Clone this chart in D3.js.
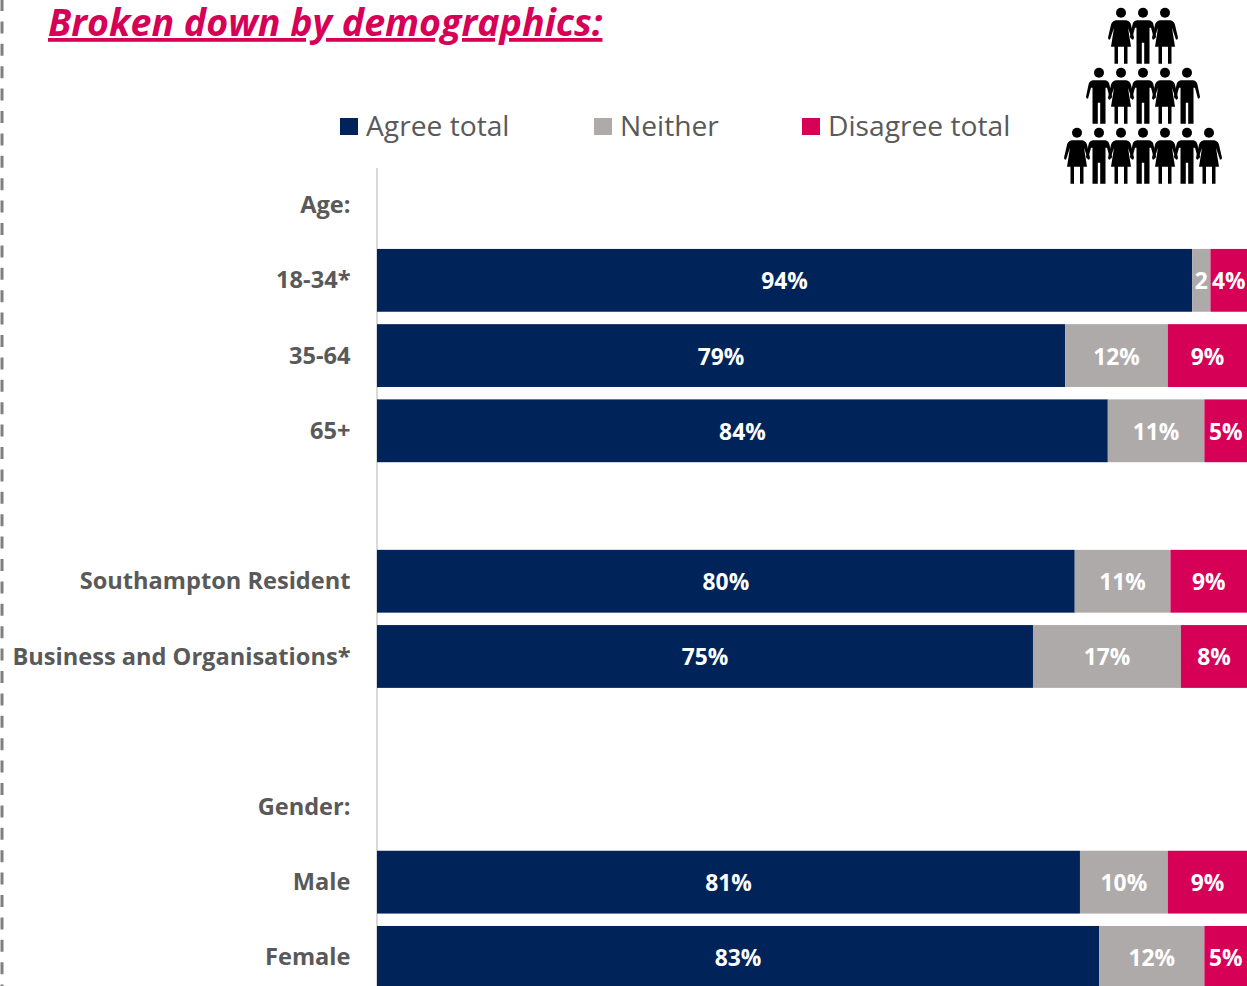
<!DOCTYPE html>
<html><head><meta charset="utf-8">
<script src="https://cdn.jsdelivr.net/npm/d3@7/dist/d3.min.js"></script>
<style>html,body{margin:0;padding:0;background:#fff;overflow:hidden}svg{display:block}text{font-family:"Open Sans",sans-serif}</style>
</head><body><svg id="c" width="1247" height="986"></svg>
<script>
const categories=["Age:","18-34*","35-64","65+"," ","Southampton Resident","Business and Organisations*","  ","Gender:","Male","Female"];
const seriesNames=["Agree total","Neither","Disagree total"];
const colors=["#00235a","#aeaaaa","#d60057"];
const agree=[null,93.7,79.1,84,null,80.2,75.4,null,null,80.8,83];
const neither=[null,2.1,11.8,11.1,null,11,17,null,null,10.1,12.1];
const disagree=[null,4.2,9.1,4.9,null,8.8,7.6,null,null,9.1,4.9];
const agreeLabels=[null,"94%","79%","84%",null,"80%","75%",null,null,"81%","83%"];
const neitherLabels=[null,"2","12%","11%",null,"11%","17%",null,null,"10%","12%"];
const disagreeLabels=[null,"4%","9%","5%",null,"9%","8%",null,null,"9%","5%"];
const crowdRows=[["f","m","f"],["m","f","m","f","m"],["f","m","f","m","f","m","f"]];

const svg=d3.select("#c");
const x=d3.scaleLinear().domain([0,100]).range([377,1247]);
const y=d3.scaleBand().domain(categories).range([167.5,995]).paddingInner(0.165).paddingOuter(0.0825);

svg.append("line").attr("x1",2).attr("x2",2).attr("y1",-1).attr("y2",986)
  .attr("stroke","#7f7f7f").attr("stroke-width",3).attr("stroke-dasharray","12 10.4");

svg.append("text").attr("x",48).attr("y",36).text("Broken down by demographics:")
  .attr("fill","#d60057").attr("font-size",37.6).attr("font-weight",700).attr("font-style","italic")
  .attr("text-decoration","underline");

const legendX=[340,594,802];
const lg=svg.selectAll(".lg").data(seriesNames).join("g").attr("class","lg")
  .attr("transform",(d,i)=>`translate(${legendX[i]},118)`);
lg.append("rect").attr("width",18).attr("height",17).attr("fill",(d,i)=>colors[i]);
lg.append("text").attr("x",26).attr("y",17.5).text(d=>d).attr("fill","#595959").attr("font-size",28.2);

const ax=svg.append("g").attr("transform","translate(376.5,0)").call(d3.axisLeft(y).tickSize(0).tickPadding(26));
ax.select(".domain").attr("stroke","#d9d9d9").attr("stroke-width",2);
ax.selectAll("text").attr("fill","#595959").attr("font-size",23.6).attr("font-weight",700)
  .style("font-family",'"Open Sans",sans-serif').attr("dy","0.34em");

const series=[agree,neither,disagree], labels=[agreeLabels,neitherLabels,disagreeLabels];
categories.forEach((c,i)=>{
  if(agree[i]==null) return;
  let acc=0;
  series.forEach((s,k)=>{
    const v=s[i], x0=x(acc), x1=x(acc+v);
    svg.append("rect").attr("x",x0).attr("y",y(c)).attr("width",x1-x0).attr("height",y.bandwidth()).attr("fill",colors[k]);
    svg.append("text").attr("x",(x0+x1)/2).attr("y",y(c)+y.bandwidth()/2+9).attr("text-anchor","middle")
      .attr("fill","#fff").attr("font-weight",700).attr("font-size",22.8).text(labels[k][i]);
    acc+=v;
  });
});

const malePath="M-6,7.5 L6,7.5 Q10,8 10.5,12 L13,24 Q13,26 11,26 L8,15 L6.5,15 L6.5,30 L6.5,51 L1.2,51 L1.2,30 L-1.2,30 L-1.2,51 L-6.5,51 L-6.5,15 L-8,15 L-11,26 Q-13,26 -13,24 L-10.5,12 Q-10,8 -6,7.5 Z";
const femalePath="M-5,7.5 L5,7.5 Q9,8 10,12 L13,25 Q13,27 11,27 L7,15 L10,34 L6.5,34 L6.5,51 L3,51 L3,34 L-3,34 L-3,51 L-6.5,51 L-6.5,34 L-10,34 L-7,15 L-11,27 Q-13,27 -13,25 L-10,12 Q-9,8 -5,7.5 Z";
const pitch=22, cx=1143;
crowdRows.forEach((row,r)=>{
  row.forEach((sex,j)=>{
    const g=svg.append("g").attr("transform",`translate(${cx+(j-(row.length-1)/2)*pitch},${12.7+r*60})`);
    g.append("circle").attr("r",5).attr("fill","#000");
    g.append("path").attr("d",sex==="m"?malePath:femalePath).attr("fill","#000");
  });
});
</script></body></html>
